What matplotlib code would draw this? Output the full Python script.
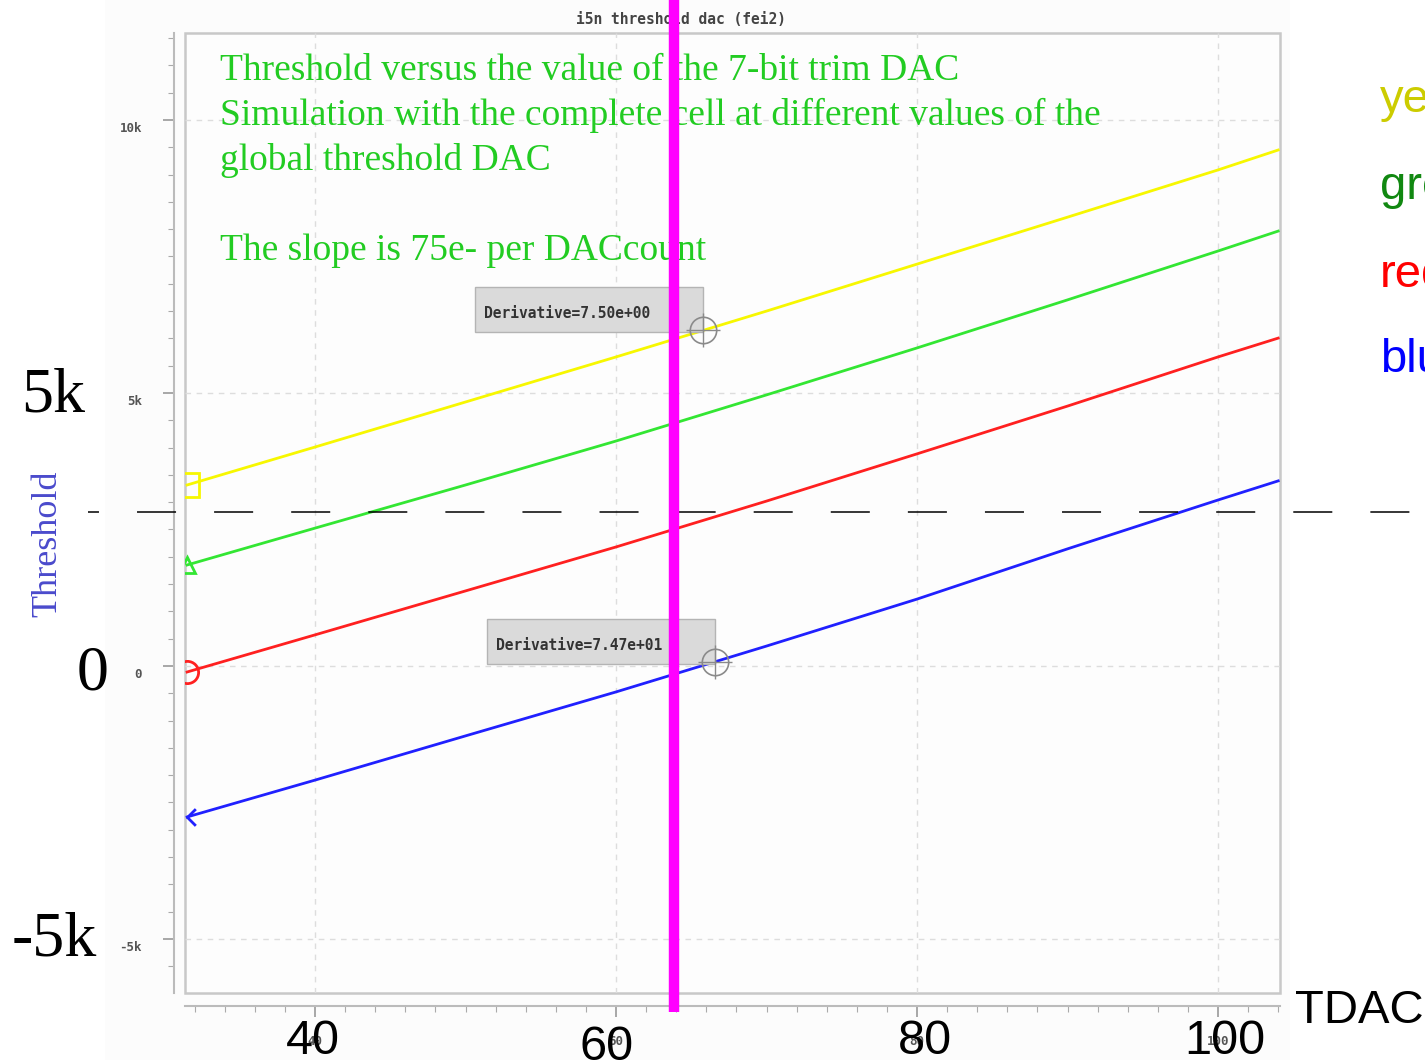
import numpy as np
import matplotlib.pyplot as plt
import matplotlib.transforms as mtransforms
from matplotlib.patches import Rectangle
from matplotlib.lines import Line2D
from matplotlib.path import Path
from matplotlib.ticker import MultipleLocator

plt.rcParams['lines.scale_dashes'] = False

W, H = 1425, 1060

# threshold (e-) vs TDAC code, one curve per global threshold DAC setting
tdac = [31.5, 40, 50, 60, 70, 80, 90, 100, 104]
thr_yellow = [3315, 4010, 4835, 5660, 6500, 7360, 8220, 9085, 9450]
thr_green = [1850, 2525, 3315, 4120, 4965, 5825, 6705, 7600, 7965]
thr_red = [-110, 570, 1375, 2180, 3020, 3885, 4760, 5660, 6005]
thr_blue = [-2765, -2090, -1280, -475, 365, 1225, 2145, 3040, 3390]

deriv_x = [65.8, 66.6]
deriv_labels = ["Derivative=7.50e+00", "Derivative=7.47e+01"]

ytick_vals = [-5000, 0, 5000, 10000]
ytick_small = ["-5k", "0", "5k", "10k"]
ytick_big = ["-5k", "0", "5k"]
xtick_vals = [40, 60, 80, 100]
legend_names = ["yellow", "green", "red", "blue"]

SERIF = "Liberation Serif"
SANS = "Liberation Sans"
MONO = "DejaVu Sans Mono"


def fx(px):
    return px / W


def fy(py):
    return 1 - py / H


fig = plt.figure(figsize=(W / 100, H / 100), dpi=100)
fig.patch.set_facecolor("white")
fig.add_artist(Rectangle((fx(105), 0), fx(1290) - fx(105), 1, transform=fig.transFigure,
                         color="#fcfcfc", lw=0, zorder=-1))

ax = fig.add_axes([fx(185), fy(993), fx(1280) - fx(185), fy(33) - fy(993)])
ax.set_facecolor("#fdfdfd")
ax.set_xlim(31.36, 104.12)
ax.set_ylim(-5989, 11593)

# frame + outward axis lines
for s in ["top", "right"]:
    ax.spines[s].set_visible(False)
ax.spines["left"].set_position(("outward", 8))
ax.spines["bottom"].set_position(("outward", 9))
for s in ["left", "bottom"]:
    ax.spines[s].set_color("#bbbbbb")
    ax.spines[s].set_linewidth(1.5)
ax.add_patch(Rectangle((0, 0), 1, 1, transform=ax.transAxes, fill=False,
                       ec="#c8c8c8", lw=1.8, clip_on=False, zorder=1))

ax.set_xticks(xtick_vals)
ax.set_xticklabels([str(v) for v in xtick_vals])
ax.xaxis.set_minor_locator(MultipleLocator(2))
ax.set_yticks(ytick_vals)
ax.set_yticklabels(ytick_small)
ax.yaxis.set_minor_locator(MultipleLocator(500))
ax.tick_params(which="major", direction="out", length=8, width=1.2, color="#999999")
ax.tick_params(which="minor", direction="out", length=4, width=0.8, color="#aaaaaa")
ax.tick_params(axis="y", pad=15)
ax.tick_params(axis="x", pad=13)
for lab in ax.get_yticklabels() + ax.get_xticklabels():
    lab.set_fontfamily(MONO)
    lab.set_fontsize(9)
    lab.set_fontweight("bold")
    lab.set_color("#555555")
shift = mtransforms.ScaledTranslation(0, -0.07, fig.dpi_scale_trans)
for lab in ax.get_yticklabels():
    lab.set_transform(lab.get_transform() + shift)

ax.grid(True, which="major", ls=(0, (4, 4)), color="#dddddd", lw=1)

chevron = Path([(1, 1), (0, 0), (1, -1)], [Path.MOVETO, Path.LINETO, Path.LINETO])
curves = [
    (thr_yellow, "#f7f700", "s", 17),
    (thr_green, "#33e633", "^", 11),
    (thr_red, "#ff2020", "o", 16),
    (thr_blue, "#2020ff", chevron, 12),
]
for vals, col, mk, ms in curves:
    ax.plot(tdac, vals, color=col, lw=2, marker=mk, markevery=[0], ms=ms,
            mfc="none", mec=col, mew=2, zorder=3)

# derivative probes on the yellow and blue curves
for mx, vals, txt in zip(deriv_x, [thr_yellow, thr_blue], deriv_labels):
    my = np.interp(mx, tdac, vals)
    ax.plot(mx, my, marker="o", ms=19, mfc="none", mec="#8a8a8a", mew=1.2, zorder=5)
    ax.plot(mx, my, marker="+", ms=24, mec="#8a8a8a", mew=1.0, zorder=5)
    tr = fig.dpi_scale_trans + mtransforms.ScaledTranslation(mx, my, ax.transData)
    ax.add_patch(Rectangle((-2.28, -0.02), 2.28, 0.45, transform=tr, fc="#dadada",
                           ec="#b4b4b4", lw=1, zorder=4, clip_on=False))
    ax.text(-2.19, 0.12, txt, transform=tr, family=MONO, fontsize=10.5, weight="bold",
            color="#333333", va="baseline", ha="left", zorder=6)

fig.text(fx(681), fy(20), "i5n threshold dac (fei2)", family=MONO, fontsize=10.5,
         weight="bold", color="#444444", ha="center", va="center")

green_lines = [
    ("Threshold versus the value of the 7-bit trim DAC", 80),
    ("Simulation with the complete cell at different values of the", 125),
    ("global threshold DAC", 170),
    ("The slope is 75e- per DACcount", 260),
]
for txt, base in green_lines:
    fig.text(fx(220), fy(base), txt, family=SERIF, fontsize=27, color="#22cc22",
             ha="left", va="baseline")

# large axis annotations
fig.text(fx(48), fy(544), "Threshold", family=SERIF, fontsize=26, color="#4a4acc",
         rotation=90, ha="center", va="center")
for lab, xr, base in zip(ytick_big, [97, 108, 85], [955, 690, 411]):
    fig.text(fx(xr), fy(base), lab, family=SERIF, fontsize=46, color="black",
             ha="right", va="baseline")
for v, xc, base in zip(xtick_vals, [313, 607, 925, 1225], [1054, 1060, 1054, 1054]):
    fig.text(fx(xc), fy(base), str(v), family=SANS, fontsize=35, color="black",
             ha="center", va="baseline")
fig.text(fx(1295), fy(1023), "TDAC", family=SANS, fontsize=34, color="black",
         ha="left", va="baseline")

for name, col, base in zip(legend_names, ["#cccc00", "#118811", "#ff0000", "#0000ff"],
                           [112, 199, 287, 372]):
    fig.text(fx(1380), fy(base), name, family=SANS, fontsize=34, color=col,
             ha="left", va="baseline")

fig.add_artist(Line2D([fx(88), 1], [fy(512), fy(512)], transform=fig.transFigure,
                      color="black", lw=1.1, ls=(20.2, (28.1, 27.4)), zorder=9))
fig.add_artist(Line2D([fx(674), fx(674)], [fy(0), fy(1012)], transform=fig.transFigure,
                      color="#ff00ff", lw=7.5, solid_capstyle="butt", zorder=10))

fig.savefig("out.png", dpi=100)
